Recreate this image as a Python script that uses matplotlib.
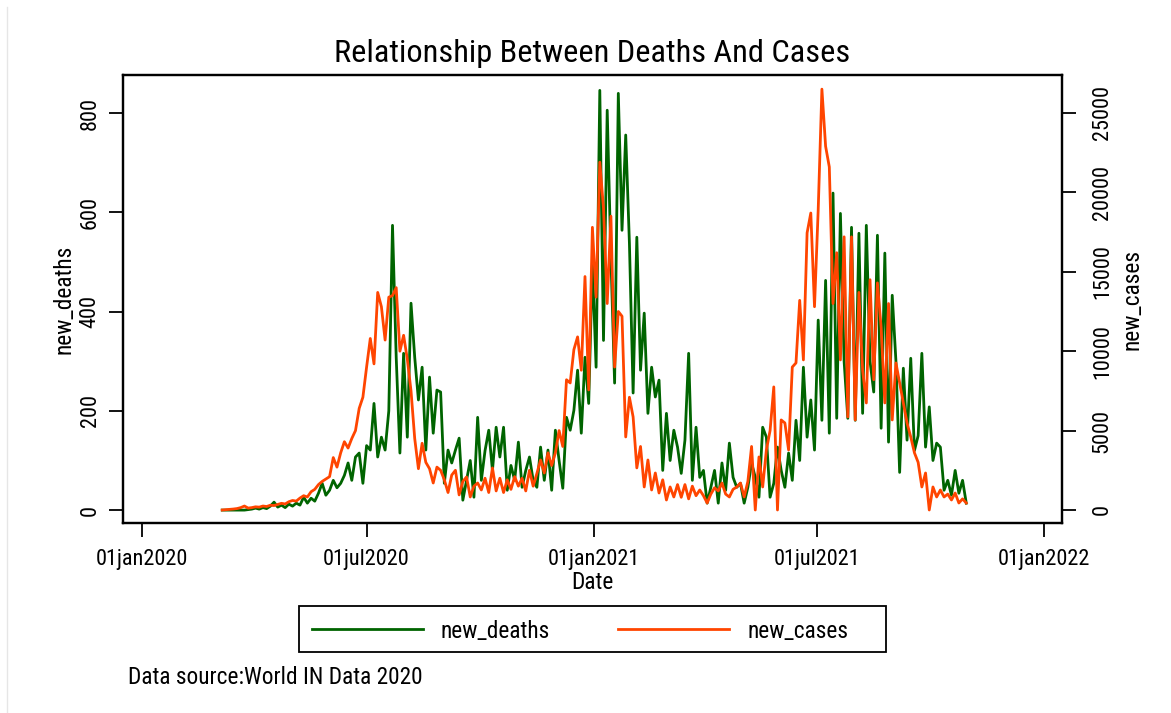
from __future__ import annotations

import matplotlib

matplotlib.use("Agg")
import matplotlib.dates as mdates
import matplotlib.pyplot as plt
from matplotlib.lines import Line2D
from matplotlib.patches import Rectangle
import numpy as np


# daily series, one value every 3 days from 06mar2020
START_DATE = "2020-03-06"
STEP_DAYS = 3

NEW_DEATHS = [
    0, 0, 0, 0, 0, 0, 0, 1, 2, 4,
    2, 5, 3, 8, 16, 6, 10, 5, 12, 8,
    14, 10, 26, 14, 24, 18, 34, 54, 30, 40,
    60, 45, 54, 70, 95, 60, 107, 115, 54, 130,
    121, 215, 107, 147, 121, 200, 574, 308, 115, 316,
    147, 417, 308, 222, 288, 121, 268, 155, 242, 238,
    54, 121, 95, 121, 145, 20, 60, 100, 26, 187,
    60, 120, 161, 80, 167, 107, 167, 40, 90, 60,
    137, 46, 80, 107, 60, 46, 127, 60, 121, 40,
    161, 100, 44, 187, 161, 201, 282, 155, 308, 215,
    498, 288, 846, 342, 806, 510, 256, 840, 564, 756,
    538, 236, 550, 282, 397, 195, 288, 228, 262, 80,
    195, 100, 161, 127, 74, 141, 316, 60, 167, 66,
    80, 14, 46, 80, 14, 95, 40, 135, 66, 46,
    54, 14, 46, 95, 66, 26, 167, 147, 26, 54,
    127, 80, 46, 115, 60, 181, 100, 288, 147, 222,
    121, 383, 181, 463, 155, 639, 185, 598, 300, 185,
    570, 181, 558, 195, 574, 300, 238, 554, 165, 518,
    137, 433, 300, 76, 286, 141, 306, 120, 150, 316,
    127, 208, 100, 135, 127, 40, 60, 30, 80, 34,
    60, 14,
]

NEW_CASES = [
    0, 20, 40, 60, 90, 150, 250, 120, 150, 200,
    180, 250, 220, 300, 280, 350, 420, 380, 520, 600,
    560, 750, 900, 820, 1150, 1300, 1600, 1800, 1950, 2100,
    3300, 2700, 3600, 4300, 3900, 4500, 5000, 6400, 7100, 9000,
    10800, 9200, 13700, 12800, 10700, 13400, 13500, 14000, 10000, 11000,
    9500, 7500, 4500, 2600, 4200, 3000, 2600, 1700, 2700, 2500,
    1900, 1100, 2200, 2500, 950, 1800, 2080, 820, 1500, 1700,
    1260, 2000, 1100, 2650, 1200, 2000, 1100, 1900, 1300, 2100,
    1500, 2000, 1200, 2500, 1500, 2300, 3150, 2330, 3600, 2800,
    3600, 5000, 4000, 8200, 8000, 10100, 10900, 8800, 14700, 7560,
    17800, 13400, 21900, 19000, 13000, 18500, 9000, 12500, 12200, 4600,
    7100, 5860, 2650, 4000, 1450, 3150, 1260, 2330, 1070, 1900,
    630, 1450, 820, 1600, 800, 1600, 700, 1500, 900, 1260,
    900, 440, 1000, 1400, 1200, 1700, 1000, 820, 1300, 1450,
    1700, 820, 1800, 4000, 0, 3340, 1450, 3780, 5000, 7750,
    0, 5670, 5480, 3780, 9000, 9260, 13200, 9450, 17450, 18700,
    12800, 18900, 26500, 22900, 21600, 13000, 16200, 9450, 17200, 5860,
    17200, 5670, 13700, 8800, 6740, 14500, 8200, 14300, 11500, 6740,
    13000, 5670, 9260, 8000, 6740, 5480, 4600, 3600, 3000, 1450,
    2330, 0, 1450, 820, 1260, 820, 1000, 630, 1070, 440,
    700, 440,
]

X_TICKS = ["2020-01-01", "2020-07-01", "2021-01-01", "2021-07-01", "2022-01-01"]
X_TICK_LABELS = ["01jan2020", "01jul2020", "01jan2021", "01jul2021", "01jan2022"]
DEATH_TICKS = [0, 200, 400, 600, 800]
CASE_TICKS = [0, 5000, 10000, 15000, 20000, 25000]

GREEN = "#006400"
ORANGE = "#ff4500"

W, H = 1171, 713


def main() -> None:
    plt.rcParams["font.family"] = ["Roboto Condensed", "Archivo Narrow", "DejaVu Sans"]
    fig = plt.figure(figsize=(W / 100, H / 100), dpi=100)
    ax = fig.add_axes([123 / W, 1 - 523 / H, (1062 - 123) / W, (523 - 75) / H])
    ax2 = ax.twinx()

    dates = np.datetime64(START_DATE) + np.arange(len(NEW_DEATHS)) * STEP_DAYS
    ax.plot(dates, NEW_DEATHS, color=GREEN, lw=2.0)
    ax2.plot(dates, NEW_CASES, color=ORANGE, lw=2.0)

    ax.set_xlim(np.datetime64("2019-12-16T14"), np.datetime64("2022-01-15T14"))
    ax.set_ylim(-26, 877)
    ax2.set_ylim(-819, 27390)

    ax.set_xticks(mdates.date2num(np.array(X_TICKS, dtype="datetime64[D]")))
    ax.set_xticklabels(X_TICK_LABELS)
    ax.set_yticks(DEATH_TICKS)
    ax2.set_yticks(CASE_TICKS)

    for a in (ax, ax2):
        a.tick_params(direction="out", length=10, width=1.3, labelsize=16)
        for sp in a.spines.values():
            sp.set_linewidth(1.6)
    ax.tick_params(axis="x", pad=9)
    ax.tick_params(axis="y", labelrotation=90, pad=6)
    ax2.tick_params(axis="y", labelrotation=90, pad=11.5)
    for lab in ax.get_yticklabels() + ax2.get_yticklabels():
        lab.set_va("center")

    ax.set_title("Relationship Between Deaths And Cases", fontsize=23.3, pad=9.5)
    ax.set_ylabel("new_deaths", fontsize=16.8)
    ax.yaxis.set_label_coords(-0.0508, 0.5)
    ax2.set_ylabel("new_cases", fontsize=16.8)
    ax2.yaxis.set_label_coords(1.0626, 0.5)
    ax.set_xlabel("Date", fontsize=16.8)
    ax.xaxis.set_label_coords(0.5, -0.107)

    # legend drawn as a plain box with two keys
    fig.add_artist(Rectangle((299 / W, 1 - 652 / H), 587 / W, 46 / H, transform=fig.transFigure,
                             fill=False, edgecolor="black", lw=1.3))
    fig.add_artist(Line2D([312 / W, 423 / W], [1 - 629 / H] * 2, transform=fig.transFigure, color=GREEN, lw=2.0))
    fig.add_artist(Line2D([618 / W, 729 / W], [1 - 629 / H] * 2, transform=fig.transFigure, color=ORANGE, lw=2.0))
    fig.text(440 / W, 1 - 638.5 / H, "new_deaths", fontsize=16.8, va="baseline", ha="left")
    fig.text(748 / W, 1 - 638.5 / H, "new_cases", fontsize=16.8, va="baseline", ha="left")

    fig.text(128 / W, 1 - 684.5 / H, "Data source:World IN Data 2020", fontsize=16.8, va="baseline", ha="left")
    fig.add_artist(Line2D([7 / W, 7 / W], [0, 1 - 7 / H], transform=fig.transFigure, color="#e6e6e6", lw=1))

    fig.savefig("out.png", dpi=100)
    plt.close(fig)


if __name__ == "__main__":
    main()
